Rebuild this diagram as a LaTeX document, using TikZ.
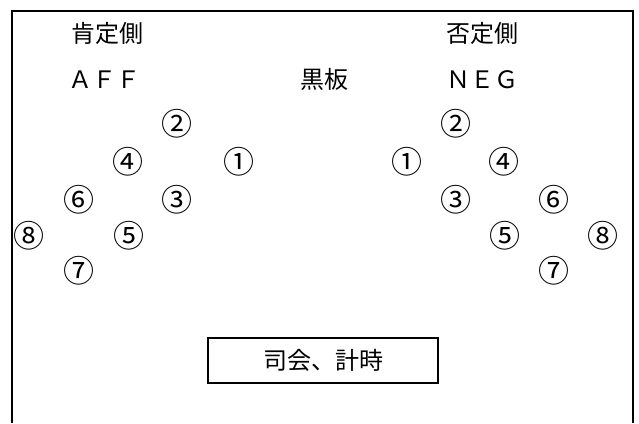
\documentclass[tikz,border=0pt]{standalone}
\usepackage{fontspec}
\setmainfont{Noto Sans CJK JP}
\begin{document}
\begin{tikzpicture}[x=1pt,y=-1pt,
  lbl/.style={inner sep=0pt,font=\fontsize{24}{26}\selectfont},
  seat/.style={inner sep=0pt,font=\fontsize{31}{33}\selectfont},
  frame/.style={line width=2.6pt}]
\useasboundingbox (0,0) rectangle (639,423);
\draw[frame] (12,423) -- (12,11) -- (633,11) -- (633,423);
% titles
\node[lbl] (aff) at (107,33) {肯定側};
\node[lbl] (neg) at (482,33) {否定側};
\node[lbl] (affen) at (104,80) {ＡＦＦ};
\node[lbl] (board) at (324,79) {黒板};
\node[lbl] (negen) at (482,80) {ＮＥＧ};
% affirmative seats
\node[seat] (a2) at (177,124) {②};
\node[seat] (a4) at (128,162) {④};
\node[seat] (a1) at (239,162) {①};
\node[seat] (a6) at (79,200) {⑥};
\node[seat] (a3) at (177,200) {③};
\node[seat] (a8) at (29,236) {⑧};
\node[seat] (a5) at (129,236) {⑤};
\node[seat] (a7) at (79,271) {⑦};
% negative seats
\node[seat] (n2) at (456,124) {②};
\node[seat] (n1) at (407,162) {①};
\node[seat] (n4) at (504,162) {④};
\node[seat] (n3) at (456,200) {③};
\node[seat] (n6) at (554,200) {⑥};
\node[seat] (n5) at (505,236) {⑤};
\node[seat] (n8) at (603,236) {⑧};
\node[seat] (n7) at (554,271) {⑦};
% chair box
\node[draw,line width=2.4pt,minimum width=230pt,minimum height=45pt,inner sep=0pt,
      font=\fontsize{24}{26}\selectfont] (chair) at (323,360.5) {司会、計時};
\end{tikzpicture}
\end{document}
